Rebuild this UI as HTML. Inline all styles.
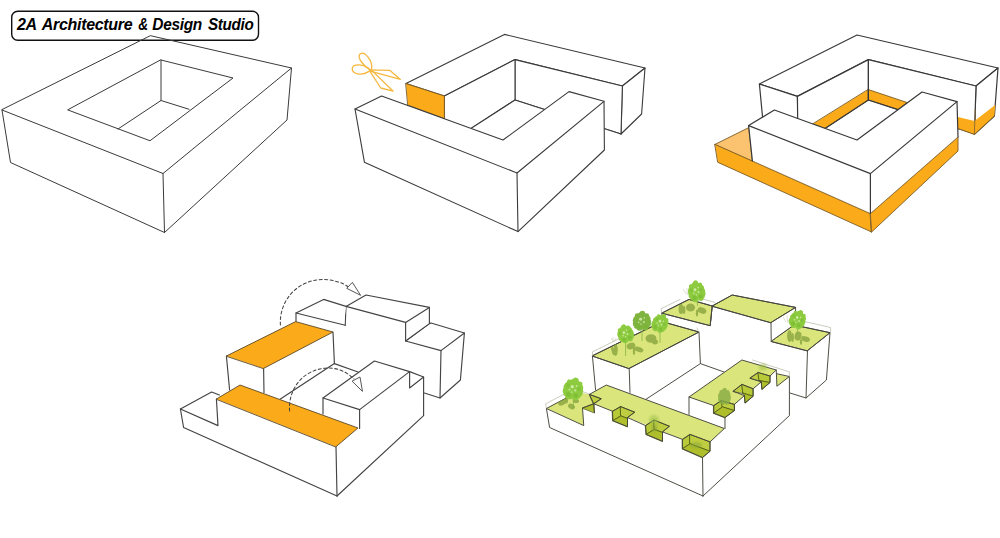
<!DOCTYPE html>
<html>
<head>
<meta charset="utf-8">
<title>2A Architecture &amp; Design Studio</title>
<style>
html,body{margin:0;padding:0;background:#fff;}
body{width:1000px;height:538px;position:relative;overflow:hidden;font-family:"Liberation Sans",sans-serif;}
#art{position:absolute;left:0;top:0;width:1000px;height:538px;display:block;}
</style>
</head>
<body>
<svg id="art" width="1000" height="538" viewBox="0 0 1000 538">
<defs>
<filter id="b0" x="-30%" y="-30%" width="160%" height="160%"><feGaussianBlur stdDeviation="0.45"/></filter>
<filter id="b1" x="-30%" y="-30%" width="160%" height="160%"><feGaussianBlur stdDeviation="0.7"/></filter>
<filter id="b2" x="-30%" y="-30%" width="160%" height="160%"><feGaussianBlur stdDeviation="1.1"/></filter>
<g id="canopy">
<circle cx="0" cy="-5" r="4.5"/><circle cx="-4" cy="-2" r="4"/><circle cx="4" cy="-2.5" r="4"/><circle cx="-5" cy="2.2" r="3.4"/><circle cx="5" cy="2" r="3.4"/><circle cx="0" cy="1" r="5"/><circle cx="-2.2" cy="6" r="3.1"/><circle cx="3" cy="5.8" r="2.9"/><circle cx="0.5" cy="-8.2" r="2.4"/><circle cx="-6.6" cy="-1" r="1.9"/><circle cx="6.6" cy="-0.2" r="1.9"/><circle cx="-4.5" cy="-6" r="2"/><circle cx="4.8" cy="-6.2" r="1.8"/><circle cx="-5.6" cy="5.4" r="1.6"/><circle cx="5.6" cy="5.2" r="1.5"/>
</g>
<g id="specks">
<circle cx="-1.2" cy="-2.2" r="1.4" fill="#e3f5c4" opacity="0.75"/><circle cx="1.8" cy="0.4" r="1.0" fill="#e3f5c4" opacity="0.65"/><circle cx="-0.8" cy="2.6" r="0.8" fill="#e3f5c4" opacity="0.55"/><circle cx="2.2" cy="-3.6" r="0.8" fill="#dff2bd" opacity="0.7"/><circle cx="-3" cy="0.8" r="0.8" fill="#dff2bd" opacity="0.7"/>
<circle cx="-3" cy="5" r="2" fill="#76b52f" opacity="0.6"/><circle cx="3.2" cy="4.6" r="1.8" fill="#76b52f" opacity="0.6"/><circle cx="4.6" cy="-1.4" r="1.6" fill="#7bba33" opacity="0.5"/><circle cx="-4.8" cy="-2.6" r="1.5" fill="#7bba33" opacity="0.5"/>
</g>
</defs>
<rect width="1000" height="538" fill="#fff"/>

<!-- label -->
<rect x="11.7" y="11.3" width="246.8" height="28.9" rx="6" ry="6" fill="#fff" stroke="#111" stroke-width="1.4"/>
<text y="29.9" font-family="'Liberation Sans',sans-serif" font-weight="bold" font-style="italic" font-size="16" letter-spacing="-0.31" fill="#000"><tspan x="17">2A </tspan><tspan x="41.8">Architecture </tspan><tspan x="138.2" textLength="9.6" lengthAdjust="spacingAndGlyphs">&amp;</tspan><tspan> </tspan><tspan x="152.3" textLength="49.6" lengthAdjust="spacingAndGlyphs">Design</tspan><tspan> </tspan><tspan x="207.9" textLength="45.6" lengthAdjust="spacingAndGlyphs">Studio</tspan></text>

<!-- ============ SHAPE 1 ============ -->
<g id="s1" stroke="#3a3a3a" stroke-width="1" fill="none" stroke-linejoin="round" stroke-linecap="round">
<polygon points="150.75,35.75 291.5,68 287,120 164.5,232.5 10.5,162.5 2,110"/>
<polyline points="2,110 163,173.5 291.5,68"/>
<line x1="163" y1="173.5" x2="164.5" y2="232.5"/>
<polygon points="161,60 233,78 150,140.75 68,110"/>
<line x1="161" y1="60" x2="161" y2="100.5"/>
<polyline points="118,129 161,100.5 189,109.25"/>
</g>

<!-- ============ SHAPE 2 ============ -->
<g id="s2" stroke="#3a3a3a" stroke-width="1.1" fill="#fff" stroke-linejoin="round" stroke-linecap="round">
<!-- back piece -->
<polygon points="504.4,34.4 645,68 622.4,86 515,59.6 444.4,96 406,83.6"/>
<polygon points="622.4,86 645,68 641.6,114 621,134"/>
<polygon points="515,59.6 622.4,86 621,134 515,100"/>
<polygon points="515,59.6 515,100 444.4,146 444.4,96"/>
<polygon points="515,100 621,134 503,160 440,148" stroke="none"/>
<polyline points="471.6,128 515,100 621,134" fill="none"/>
<polygon points="406,83.6 444.4,96 444.4,118.6 408,105.2" fill="#fbaa19" stroke="#7a5c25" stroke-width="0.9"/>
<!-- front piece -->
<polygon points="355,109 381.6,96 503,140 569,91.6 604,101.3 604.4,150 518,231.6 364.4,162.2"/>
<polyline points="355,109 517,173 604,101.3" fill="none"/>
<line x1="517" y1="173" x2="518" y2="231.6"/>
<!-- scissors -->
<g fill="none" stroke="#f5b73f" stroke-width="1.3" stroke-linejoin="round">
<path d="M370.2,70 C364,66.5 356.5,57.5 360,54 C364.5,50.5 373,61 371.6,69"/>
<path d="M370.2,70 C364,63 352.6,63.6 352.2,68.6 C352,73.6 361,76.4 368.6,71.6"/>
<path d="M369,69.8 L390,70.4 L400.4,79.4 L371,71.4 Z"/>
<path d="M369.6,70.8 L380.8,88 L393.2,91.2 L372,70.6 Z"/>
</g>
</g>

<!-- ============ SHAPE 3 ============ -->
<g id="s3" stroke="#383838" stroke-width="1.2" fill="#fff" stroke-linejoin="round" stroke-linecap="round">
<!-- back piece -->
<polygon points="857,35 998,68 976,86 868.4,59.6 797.4,96.4 759.4,84"/>
<polygon points="759.4,84 797.4,96.4 798,119 762.6,117.5"/>
<polygon points="976,86 998,68 994.4,116 974.4,134.4"/>
<polygon points="868.4,59.6 976,86 974.4,134.4 868.4,100"/>
<polygon points="868.4,59.6 868.4,100 798,146 797.4,96.4"/>
<polygon points="868.4,100 974.4,134.4 857,160 800,146" stroke="none"/>
<!-- orange bands courtyard -->
<polygon points="868.4,89.6 868.4,100 825,128.4 813,124" fill="#fbaa19" stroke="#7a5c25" stroke-width="0.9"/>
<polygon points="868.4,89.6 907,102.5 898,109.6 868.4,100" fill="#fbaa19" stroke="#7a5c25" stroke-width="0.9"/>
<polyline points="825,128.4 868.4,100 898,109.6" fill="none"/>
<line x1="868.4" y1="59.6" x2="868.4" y2="100"/>
<!-- orange band right stub -->
<polygon points="955,116.2 974.4,121 974.4,134.4 955,127.5" fill="#fbaa19" stroke="none"/>
<polygon points="974.4,121 995.2,105 994.4,116 974.4,134.4" fill="#fbaa19" stroke="none"/>
<polyline points="955,127.5 974.4,134.4 994.4,116" fill="none" stroke="#7a5c25" stroke-width="0.9"/>
<line x1="975.2" y1="110" x2="974.4" y2="134.4" stroke="#8a6a30" stroke-width="0.8"/>
<!-- orange base -->
<polygon points="715,144.4 748.8,127.6 752.4,161" fill="#fbc36f" stroke="#7a5c25" stroke-width="0.9"/>
<polygon points="715,144.4 870.4,213.6 871.6,232 718,162.4" fill="#fbaa19" stroke="#7a5c25" stroke-width="0.9"/>
<polygon points="870.4,213.6 958,137 958,151 871.6,232" fill="#fbaa19" stroke="#7a5c25" stroke-width="0.9"/>
<!-- front piece white -->
<polygon points="748.6,125.6 774.4,110 857,140 922,92 957,101.6 958,137 870.4,213.6 752.4,161" stroke="none"/>
<polyline points="752.4,161 870.4,213.6 958,137" fill="none" stroke="#8a6a30" stroke-width="0.8"/>
<polyline points="752.4,161 748.6,125.6 774.4,110 857,140 922,92 957,101.6 958,137" fill="none"/>
<polyline points="748.6,125.6 870.4,173.6 957,101.6" fill="none"/>
<line x1="870.4" y1="173.6" x2="870.4" y2="213.6"/>
<line x1="870.4" y1="213.6" x2="871.6" y2="232" stroke="#8a6a30" stroke-width="0.8"/>
</g>

<!-- ============ SHAPE 4 ============ -->
<g id="s4" stroke="#444" stroke-width="1.15" fill="none" stroke-linejoin="round" stroke-linecap="round">
<!-- right back block -->
<polygon points="405.6,341 431,323 464.4,333 460.4,380 440,398 424.4,393 405.6,380" fill="#fff" stroke="none"/>
<polyline points="405.6,341 429.4,323.6 431,323 464.4,333 460.4,380 440,398 424.4,393"/>
<polyline points="405.6,341 441,350.6 464.4,333"/>
<line x1="441" y1="350.6" x2="440" y2="398"/>
<!-- tall block -->
<polygon points="346,306.4 366,295 429.4,307.4 429.4,323.6 405.6,341 405.6,380 334.4,363.6 333,332 344,325" fill="#fff" stroke="none"/>
<polyline points="345.2,325.3 346,306.4 366,295 429.4,307.4 429.4,323.6 405.6,341"/>
<polyline points="346,306.4 405.6,322.4 429.4,307.4"/>
<line x1="405.6" y1="322.4" x2="405.6" y2="341"/>
<!-- back-left lower block -->
<polygon points="296,313 323.6,299.4 346,306.4 344,325 333,332 296,321.6" fill="#fff" stroke="none"/>
<polyline points="296,321.6 296,313 323.6,299.4 346,306.4"/>
<line x1="296" y1="313" x2="345.2" y2="325.3"/>
<!-- upper-left orange block -->
<polygon points="226.4,356 263.6,368.4 333,332 334.4,363.6 280.4,399 264,392.4 229.6,390" fill="#fff" stroke="none"/>
<line x1="226.4" y1="356" x2="229.6" y2="390"/>
<line x1="263.6" y1="368.4" x2="264" y2="392.4"/>
<line x1="333" y1="332" x2="334.4" y2="363.6"/>
<polygon points="226.4,356 295.6,321.6 333,332 263.6,368.4" fill="#fbaa19" stroke="#5a4a2a" stroke-width="0.9"/>
<!-- floor -->
<polygon points="334.4,363.6 358,372 323,398 280.4,399" fill="#fff" stroke="none"/>
<polyline points="280.4,399 334.4,363.6 358,372"/>
<!-- front-right block -->
<polygon points="323,398 374.4,361 409.6,371.6 423.6,377 423.6,415.6 337,496 336,446.7 358,428 323,414" fill="#fff" stroke="none"/>
<polyline points="323,414 323,398 374.4,361 409.6,371.6 423.6,377 423.6,415.6 337,496"/>
<polyline points="323,398 359.6,409.6 409.6,371.6"/>
<line x1="359.6" y1="409.6" x2="359.6" y2="428.5"/>
<polyline points="409.6,371.6 409.6,388 423.6,377"/>
<!-- small left block + front-left -->
<polygon points="180.4,409 211.6,392 219,395 216.4,399 336,446.7 337,496 183.6,427.5" fill="#fff" stroke="none"/>
<polyline points="219.4,395 211.6,392 180.4,409 183.6,427.5 337,496"/>
<polyline points="180.4,409 218,425.6 216.4,399"/>
<polygon points="216.4,399 240,385 358,428 336,446.7" fill="#fbaa19" stroke="#5a4a2a" stroke-width="0.9"/>
<line x1="336" y1="446.7" x2="337" y2="496"/>
<!-- dashed arcs -->
<path d="M280.4,325 C279,300 298,280 322,279.5 C332,279.5 341,282 348,286.5" stroke-dasharray="3,2.5" stroke-width="1.05"/>
<polygon points="347,288 352.4,282.4 360.4,295" stroke-width="0.9" fill="#fff"/>
<path d="M289.6,411 C288,390 302,369 328,368 C338,368 347,372 354,379" stroke-dasharray="3,2.5" stroke-width="1.05"/>
<polygon points="352.4,381 360,377 362.4,391" stroke-width="0.9" fill="#fff"/>
</g>


<!-- ============ SHAPE 5 ============ -->
<g id="s5" stroke="#45453c" stroke-width="0.95" fill="none" stroke-linejoin="round" stroke-linecap="round">
<!-- right back block -->
<polygon points="771.2,341.2 794,325 830,332.7 826.4,380 806,398 790,393 771.6,380" fill="#fff" stroke="none"/>
<polygon points="771.2,341.2 794,325 830,332.7 807.5,350.6" fill="#dae67b"/>
<polyline points="830,332.7 826.4,380 806,398 790,393"/>
<line x1="807.5" y1="350.6" x2="806" y2="398"/>
<!-- tall block -->
<polygon points="712.2,306 732.2,295 795.6,307.4 795.6,323.6 771.6,341 771.6,380 700.4,363.6 699,332 710,325" fill="#fff" stroke="none"/>
<polygon points="712.2,306 732.2,295 795.6,307.4 771,322.5" fill="#dae67b"/>
<line x1="712.2" y1="306" x2="710.2" y2="325.3"/>
<line x1="795.6" y1="307.4" x2="795.6" y2="323.6"/>
<line x1="771" y1="322.5" x2="771.2" y2="341.2"/>
<!-- back-left lower block -->
<polygon points="662,313 689,299.4 712.2,306 710.2,325.3 699,332 662,321.6" fill="#fff" stroke="none"/>
<polygon points="662,313 689,299.4 712.2,306 710.2,325.3" fill="#dae67b"/>
<line x1="662" y1="313" x2="662" y2="321.6"/>
<!-- upper-left block -->
<polygon points="592.4,355.8 629.2,368.4 699,332 700.4,363.6 646.4,399 630,392.4 595.6,390" fill="#fff" stroke="none"/>
<line x1="592.4" y1="355.8" x2="595.6" y2="390"/>
<line x1="629.2" y1="368.4" x2="630" y2="392.4"/>
<line x1="699" y1="332" x2="700.4" y2="363.6"/>
<polygon points="592.4,355.8 662,321.6 699,332 629.2,368.4" fill="#dae67b"/>
<!-- floor -->
<polygon points="700.4,363.6 724,372 689,398 646.4,399" fill="#fff" stroke="none"/>
<polyline points="646.4,399 700.4,363.6 724,372"/>
<!-- front-right block -->
<polygon points="689,397 741.9,360 776.25,370 789.4,376.5 789.4,415.6 703,496 702.5,457.5 724.4,428.5 689,414.4" fill="#fff" stroke="none"/>
<polygon points="689,397 741.9,360 776.25,370 770,376 758.1,372.5 750,378.1 761.25,381.9 753.1,388.75 741.9,384.4 733.1,391.25 744.4,395.6 734.4,404.4 721.25,400.6 713.75,405.6" fill="#dae67b" stroke="none"/>
<polygon points="776.9,373.75 789.4,376.9 776.9,386.25" fill="#dae67b" stroke="none"/>
<!-- notch C -->
<g stroke="#4d5a12" stroke-width="0.8">
<polygon points="750,378.1 758.1,372.5 759.4,380.6" fill="#bfce40"/>
<polygon points="758.1,372.5 770,376 770,382.5 759.4,380.6" fill="#b9ca38"/>
<polygon points="759.4,380.6 770,382.5 761.9,389.4 761.25,381.9" fill="#aebf2b"/>
<!-- notch B -->
<polygon points="733.1,391.25 741.9,384.4 743.1,393.1" fill="#bfce40"/>
<polygon points="741.9,384.4 753.1,388.75 753.1,396.25 743.1,393.1" fill="#b9ca38"/>
<polygon points="743.1,393.1 753.1,396.25 745,403.1 744.4,395.6" fill="#aebf2b"/>
<!-- notch A -->
<polygon points="713.75,405.6 721.25,400.6 722.5,406.9 713.75,413.1" fill="#b9ca38"/>
<polygon points="721.25,400.6 734.4,404.4 734.4,410.6 722.5,406.9" fill="#bfce40"/>
<polygon points="713.75,413.1 722.5,406.9 734.4,410.6 725,417.5" fill="#aebf2b"/>
</g>
<polyline points="689,414.4 689,397 741.9,360 776.25,370 776.9,386.25 789.4,376.5"/>
<polyline points="776.9,373.75 789.4,376.5 789.4,415.6 703,496"/>
<polyline points="689,397 713.75,405.6 713.75,413.1 725,417.5 725,428.5"/>
<polyline points="725,417.5 734.4,410.6 734.4,404.4 744.4,395.6 745,403.1 753.1,396.25 753.1,388.75 761.25,381.9 761.9,389.4 770,382.5 770,376 776.25,370"/>
<polyline points="770,376 758.1,372.5 750,378.1 761.25,381.9"/>
<polyline points="753.1,388.75 741.9,384.4 733.1,391.25 744.4,395.6"/>
<polyline points="734.4,404.4 721.25,400.6 713.75,405.6"/>
<!-- small left block + front-left -->
<polygon points="546.4,408.5 577.6,392 589.4,394.4 606.25,385 724.4,428.5 710,441.9 710,451.25 702.5,457.5 703,496 549.6,427.5" fill="#fff" stroke="none"/>
<polygon points="546.4,408.3 577.6,392 589.4,394.4 593.75,403.75 582.5,408 583.75,425.6" fill="#dae67b" stroke="none"/>
<polygon points="589.4,394.4 606.25,385 724.4,428.5 710,441.9 690,434.4 682.5,439.4 593.75,403.75" fill="#dae67b" stroke="none"/>
<g stroke="#4d5a12" stroke-width="0.8">
<!-- notch 1 -->
<polygon points="589.4,394.4 601.25,398.75 593.75,403.75" fill="#bfce40"/>
<polygon points="582.5,408 593.75,403.75 594.4,412.6" fill="#aebf2b"/>
<!-- notch 2 -->
<polygon points="612.5,411.25 620.6,406.6 620.9,415.9 612.9,420.6" fill="#b9ca38"/>
<polygon points="620.6,406.6 634.7,412.2 627.5,417.5 627.5,418.5 620.9,415.9" fill="#bfce40"/>
<polygon points="612.9,420.6 620.9,415.9 627.5,418.5 627.5,426.6" fill="#aebf2b"/>
<!-- notch 3 -->
<polygon points="645.6,425.6 654,420 654.4,429.4 646.25,434.4" fill="#b9ca38"/>
<polygon points="654,420 669.4,426.25 662.5,431.9 662.5,432.5 654.4,429.4" fill="#bfce40"/>
<polygon points="646.25,434.4 654.4,429.4 662.5,432.5 662.5,441.25" fill="#aebf2b"/>
<!-- notch 4 -->
<polygon points="682.5,439.4 690,434.4 690,443.75 682.5,448.75" fill="#b9ca38"/>
<polygon points="690,434.4 710,441.9 710,451.25 690,443.75" fill="#bfce40"/>
<polygon points="682.5,448.75 690,443.75 710,451.25 702.5,457.5" fill="#aebf2b"/>
</g>
<polyline points="577.6,392 546.4,408.5 549.6,427.5 703,496"/>
<polyline points="546.4,408.5 583.75,425.6 582.5,408 593.75,403.75"/>
<polyline points="589.4,394.4 606.25,385 724.4,428.5 710,441.9 710,451.25 702.5,457.5 703,496"/>
<polyline points="594.4,412.6 593.75,403.75 612.5,411.25 612.9,420.6 627.5,426.6 627.5,417.5 645.6,425.6 646.25,434.4 662.5,441.25 662.5,431.9 682.5,439.4 682.5,448.75 702.5,457.5"/>
<polyline points="593.75,403.75 589.4,394.4 601.25,398.75 593.75,403.75"/>
<polyline points="612.5,411.25 620.6,406.6 634.7,412.2 627.5,417.5"/>
<polyline points="645.6,425.6 654,420 669.4,426.25 662.5,431.9"/>
<polyline points="682.5,439.4 690,434.4 710,441.9"/>
<!-- top outlines -->
<polygon points="771.2,341.2 794,325 830,332.7 807.5,350.6"/>
<polygon points="712.2,306 732.2,295 795.6,307.4 771,322.5"/>
<polygon points="662,313 689,299.4 712.2,306 710.2,325.3"/>
<polygon points="592.4,355.8 662,321.6 699,332 629.2,368.4"/>
<!-- railings -->
<g stroke="#b4b6a4" stroke-width="0.7">
<polyline points="546.3,408 545.6,403.8 565,393.8"/>
<line x1="581" y1="391" x2="589" y2="394"/>
<polyline points="592.5,355.5 592.5,351.9 618.8,338.8"/>
<polyline points="697,328 698.8,332"/>
<polyline points="662,313 661,308.8 680,299.4"/>
<line x1="703.8" y1="299.4" x2="715" y2="302.5"/>
<polyline points="803.8,321.3 830.6,327.5 830.6,332.5"/>
<polyline points="752.5,360 789.4,371.9 789.4,376.5"/>
</g>
</g>

<!-- ============ TREES ============ -->
<g id="trees" stroke="none">
<!-- shrubs -->
<g filter="url(#b1)" fill="#819d38" opacity="0.72">
<ellipse cx="562.5" cy="402.5" rx="4.5" ry="2.6" transform="rotate(-25 562.5 402.5)"/><ellipse cx="571.5" cy="406.5" rx="3.6" ry="2.6" transform="rotate(30 571.5 406.5)"/><ellipse cx="566.5" cy="399.5" rx="1.6" ry="4"/><ellipse cx="576" cy="401" rx="3" ry="2"/>
<ellipse cx="615.6" cy="350" rx="2.2" ry="6"/><ellipse cx="613" cy="351" rx="1.4" ry="4.5" transform="rotate(-15 613 351)"/><ellipse cx="631" cy="346" rx="4.5" ry="3.2" transform="rotate(-20 631 346)"/><ellipse cx="639" cy="349.5" rx="4.5" ry="2.5" transform="rotate(20 639 349.5)"/><ellipse cx="634" cy="351" rx="1.2" ry="4"/><ellipse cx="651" cy="338.5" rx="5.5" ry="4.2"/><ellipse cx="655" cy="342" rx="3" ry="2.4"/>
<ellipse cx="681" cy="309" rx="2.4" ry="5"/><ellipse cx="684" cy="310" rx="1.4" ry="4"/><ellipse cx="690.5" cy="307.5" rx="4.6" ry="4"/><ellipse cx="702" cy="310.5" rx="4.6" ry="3" transform="rotate(20 702 310.5)"/><ellipse cx="697" cy="313" rx="1.2" ry="3.5"/>
<ellipse cx="789.5" cy="336" rx="2.4" ry="6"/><ellipse cx="792.5" cy="337.5" rx="1.4" ry="4.5"/><ellipse cx="798" cy="336" rx="3.4" ry="4.6" transform="rotate(15 798 336)"/><ellipse cx="805.5" cy="339" rx="4.6" ry="2.6" transform="rotate(20 805.5 339)"/><ellipse cx="801" cy="342" rx="1.2" ry="3"/>
</g>
<!-- twigs -->
<g stroke="#c3c9b0" stroke-width="0.6" fill="none" opacity="0.9">
<path d="M611,338 l2,4 m0,-5 l0.5,5 m2.5,-4 l-2,4"/>
<path d="M683,289 l3,5 m1,-6 l0,6 m3,-4 l-3,5"/>
<path d="M783,317 l3,5 m1,-7 l0.5,7 m3,-5 l-3,6"/>
</g>
<!-- trunks -->
<g stroke="#86b545" stroke-width="0.9" fill="none" opacity="0.9">
<line x1="573" y1="396" x2="573.5" y2="408"/>
<line x1="625.6" y1="340" x2="625.6" y2="356"/>
<line x1="642" y1="329" x2="642" y2="341"/>
<line x1="660" y1="330" x2="660" y2="343"/>
<line x1="697" y1="299" x2="697.5" y2="306"/>
<line x1="798" y1="326" x2="797" y2="334"/>
</g>
<!-- canopies -->
<g filter="url(#b0)">
<g transform="translate(573.2,389.5) rotate(12) scale(1.2,1.15)" opacity="1"><use href="#canopy" fill="#8dcb3f"/><use href="#specks"/></g>
<g transform="translate(625.6,334.2) rotate(-18) scale(0.97,0.95)" opacity="1"><use href="#canopy" fill="#8dcb3f"/><use href="#specks"/></g>
<g transform="translate(641.9,321.5) scale(1.08,1.02)" opacity="1"><use href="#canopy" fill="#80b440"/><use href="#specks"/></g>
<g transform="translate(660,323.6) rotate(25) scale(0.95,1.0)" opacity="1"><use href="#canopy" fill="#8dcb3f"/><use href="#specks"/></g>
<g transform="translate(696.6,292) rotate(-10) scale(1.02,1.1)" opacity="1"><use href="#canopy" fill="#8dcb3f"/><use href="#specks"/></g>
<g transform="translate(797.5,320) rotate(20) scale(0.97,1.0)" opacity="1"><use href="#canopy" fill="#8dcb3f"/><use href="#specks"/></g>
<g transform="translate(724.4,397) scale(0.75,0.88)" opacity="0.8"><use href="#canopy" fill="#86ab43"/></g>
</g>
<g filter="url(#b2)" opacity="0.55">
<ellipse cx="654" cy="420" rx="5" ry="5" fill="#9dbf4c"/>
<ellipse cx="654.5" cy="428" rx="3" ry="4" fill="#8aa53a"/>
<ellipse cx="696" cy="445" rx="6" ry="3" fill="#8aa53a"/>
<ellipse cx="763" cy="367" rx="4" ry="3.5" fill="#9dbf4c"/>
</g>
</g>
</svg>
</body>
</html>
